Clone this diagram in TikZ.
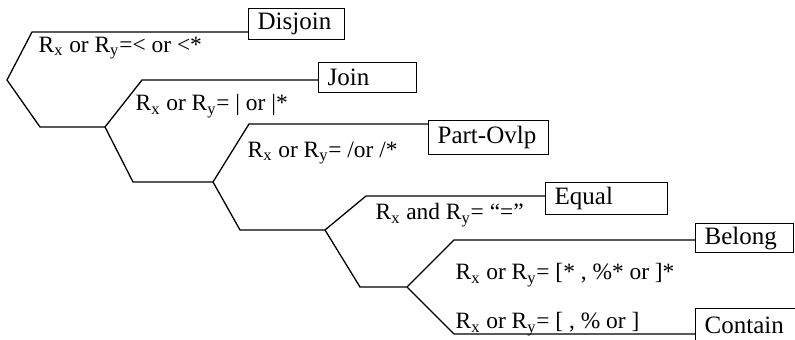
\documentclass[tikz,border=0pt]{standalone}
\usepackage{fontspec}
\setmainfont{Liberation Serif}
\usetikzlibrary{positioning}

\begin{document}
\begin{tikzpicture}[
  x=0.5pt, y=-0.5pt,
  line width=0.65pt,
  outbox/.style={rectangle, draw, anchor=north west, inner xsep=4.5pt,
                 inner ysep=0pt, align=left, font=\fontsize{12.5}{14}\selectfont},
  cond/.style={anchor=west, inner sep=0pt, font=\fontsize{11.7}{13}\selectfont},
]
\useasboundingbox (0,0) rectangle (795,340);

% ---- 节点 ----
\node[outbox, text width=39pt, minimum height=15.5pt] (disjoin) at (248,8) {Disjoin};
\node[outbox, text width=40pt, minimum height=15pt] (join) at (318,62) {Join};
\node[outbox, text width=51pt, minimum height=17pt] (ovlp) at (428,120) {Part-Ovlp};
\node[outbox, text width=52pt, minimum height=16pt] (equal) at (545,182) {Equal};
\node[outbox, text width=40pt, minimum height=14.5pt] (belong) at (695,223) {Belong};
\node[outbox, text width=46pt, minimum height=17pt] (contain) at (695,308) {Contain};

% ---- 分支点 ----
\coordinate (a0) at (32,32);
\coordinate (a1) at (7,80);
\coordinate (a2) at (40,127);
\coordinate (n1) at (105,127);
\coordinate (b0) at (142,80);
\coordinate (b1) at (133,182);
\coordinate (n2) at (213,182);
\coordinate (c0) at (249,124);
\coordinate (c1) at (240,230);
\coordinate (n3) at (325,230);
\coordinate (d0) at (366,196);
\coordinate (d1) at (360,287);
\coordinate (n4) at (407,287);
\coordinate (e0) at (454,240);
\coordinate (e1) at (454,334);

% ---- 连线 ----
\draw (disjoin.west |- a0) -- (a0) -- (a1) -- (a2) -- (n1);
\draw (n1) -- (b0) -- (b0 -| join.west);
\draw (n1) -- (b1) -- (n2);
\draw (n2) -- (c0) -- (c0 -| ovlp.west);
\draw (n2) -- (c1) -- (n3);
\draw (n3) -- (d0) -- (d0 -| equal.west);
\draw (n3) -- (d1) -- (n4);
\draw (n4) -- (e0) -- (e0 -| belong.west);
\draw (n4) -- (e1) -- (e1 -| contain.west);

% ---- 条件 ----
\node[cond] (l1) at (38,48) {R\textsubscript{x} or R\textsubscript{y}=< or <*};
\node[cond] (l2) at (135,106) {R\textsubscript{x} or R\textsubscript{y}= | or |*};
\node[cond] (l3) at (247,153) {R\textsubscript{x} or R\textsubscript{y}= /or /*};
\node[cond] (l4) at (375,215) {R\textsubscript{x} and R\textsubscript{y}= “=”};
\node[cond] (l5) at (455,275) {R\textsubscript{x} or R\textsubscript{y}= [* , \%* or ]*};
\node[cond] (l6) at (455,324) {R\textsubscript{x} or R\textsubscript{y}= [ , \% or ]};

\end{tikzpicture}
\end{document}
